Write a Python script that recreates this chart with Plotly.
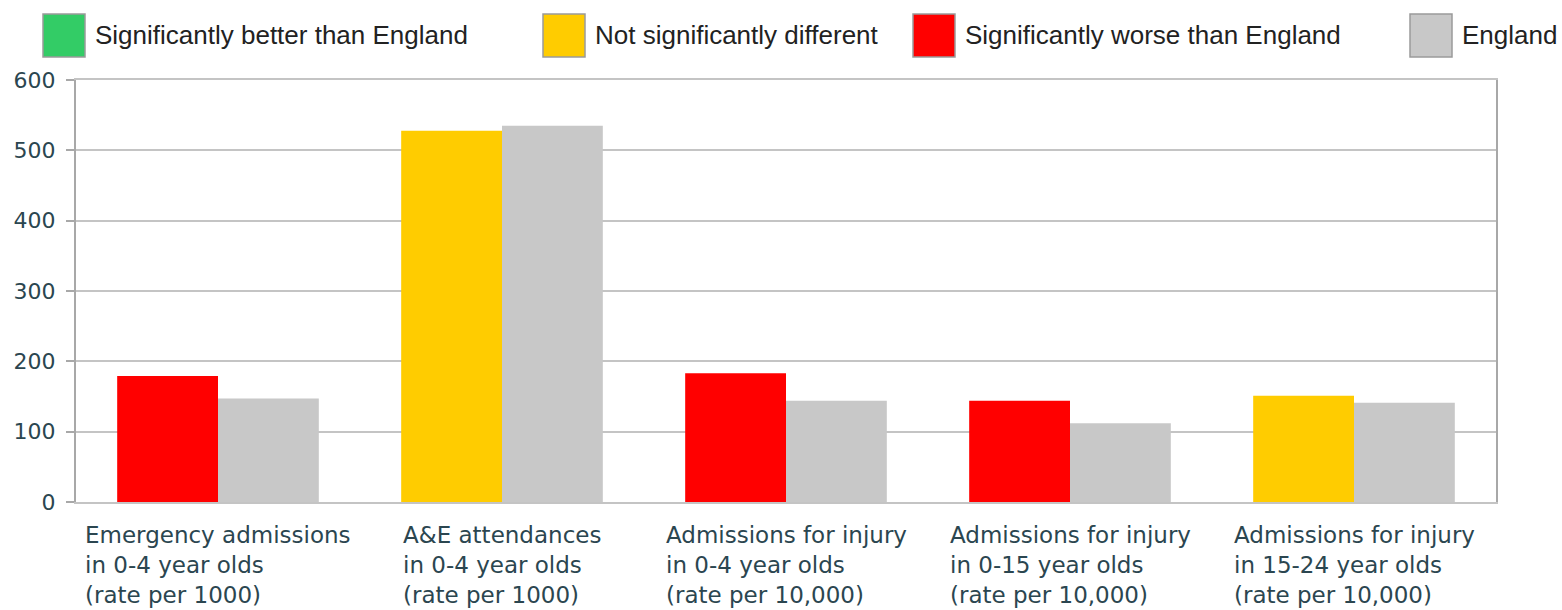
import plotly.graph_objects as go

categories = ["Emergency admissions", "A&E attendances", "Admissions for injury 0-4",
              "Admissions for injury 0-15", "Admissions for injury 15-24"]
label_lines = [
    ["Emergency admissions", "in 0-4 year olds", "(rate per 1000)"],
    ["A&E attendances", "in 0-4 year olds", "(rate per 1000)"],
    ["Admissions for injury", "in 0-4 year olds", "(rate per 10,000)"],
    ["Admissions for injury", "in 0-15 year olds", "(rate per 10,000)"],
    ["Admissions for injury", "in 15-24 year olds", "(rate per 10,000)"],
]
local_values = [179, 528, 183, 144, 151]
england_values = [147, 535, 144, 112, 141]
significance = ["worse", "not", "worse", "worse", "not"]
y_ticks = [0, 100, 200, 300, 400, 500, 600]

legend_names = ["Significantly better than England", "Not significantly different",
                "Significantly worse than England", "England"]

COLORS = {"better": "#33CC66", "not": "#FFCC00", "worse": "#FF0000", "england": "#C8C8C8"}
TEXT = "#2B4650"
GRID = "#C4C4C4"

fig = go.Figure()
fig.add_trace(go.Bar(x=categories, y=local_values,
                     marker=dict(color=[COLORS[s] for s in significance], line=dict(width=0)),
                     showlegend=False, name="Local"))
fig.add_trace(go.Bar(x=categories, y=england_values,
                     marker=dict(color=COLORS["england"], line=dict(width=0)),
                     showlegend=False, name="England"))

# plot area in pixels
L, R, T, B = 76, 1496, 80, 502
W, H = R - L, B - T

def px_x(p):
    return (p - L) / W

def px_y(p):
    return (B - p) / H

shapes = []
annotations = []

# manual legend
legend_sw = [43, 543, 913, 1410]
legend_cols = [COLORS["better"], COLORS["not"], COLORS["worse"], COLORS["england"]]
for name, sx, col in zip(legend_names, legend_sw, legend_cols):
    shapes.append(dict(type="rect", xref="paper", yref="paper",
                       x0=px_x(sx), x1=px_x(sx + 42), y0=px_y(57), y1=px_y(14),
                       fillcolor=col, line=dict(color="#9A9A9A", width=1.5)))
    annotations.append(dict(xref="paper", yref="paper", x=px_x(sx + 50), y=px_y(35),
                            xanchor="left", yanchor="middle", showarrow=False,
                            text=name, font=dict(family="Liberation Sans, Arial", size=26, color="#222222")))

# x category labels: left-aligned block, centred under category
for cat, lines in zip(categories, label_lines):
    annotations.append(dict(xref="x", yref="paper", x=cat, y=0, xanchor="center",
                            yanchor="top", align="left", showarrow=False,
                            yshift=-18, text="<br>".join(lines),
                            font=dict(family="DejaVu Sans, Verdana", size=23, color=TEXT)))

fig.update_layout(
    width=1562, height=610,
    margin=dict(l=L, r=1562 - R, t=T, b=610 - B),
    paper_bgcolor="white", plot_bgcolor="white",
    barmode="group", bargap=0.29, bargroupgap=0,
    shapes=shapes, annotations=annotations,
    xaxis=dict(showticklabels=False, showgrid=False, showline=True, mirror=True,
               linecolor=GRID, linewidth=2, ticks="", zeroline=False),
    yaxis=dict(range=[0, 600], tickvals=y_ticks, showgrid=True, gridcolor=GRID, gridwidth=2,
               showline=True, mirror=True, linecolor="#A8A8A8", linewidth=2,
               ticks="outside", ticklen=8, tickwidth=2, tickcolor="#A8A8A8",
               ticklabelstandoff=6, zeroline=False,
               tickfont=dict(family="DejaVu Sans, Verdana", size=22, color=TEXT)),
)

fig.write_html("out.html", config={"displayModeBar": False},
               post_script="document.body.style.margin='0';document.body.style.overflow='hidden';")
